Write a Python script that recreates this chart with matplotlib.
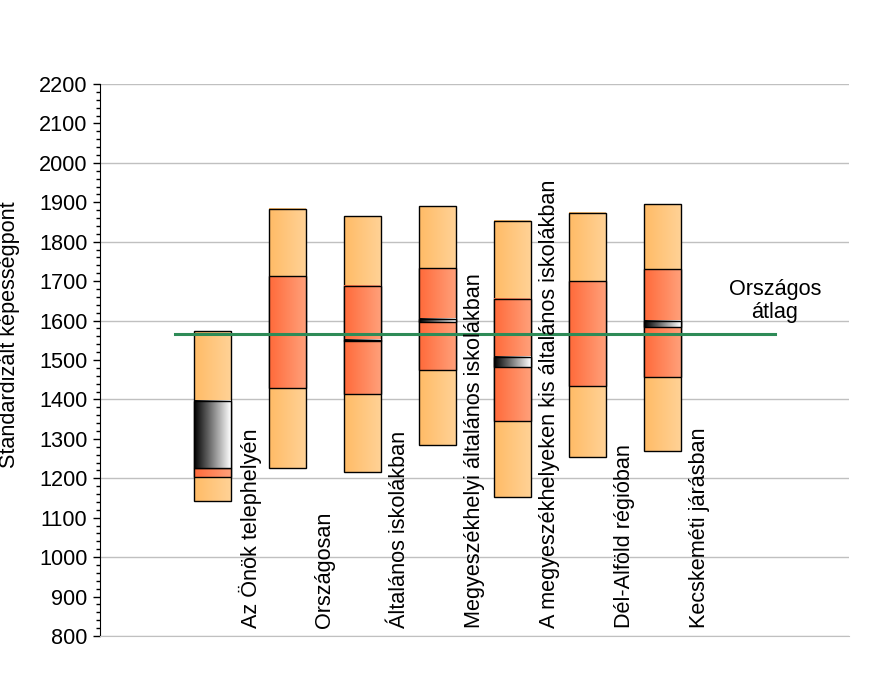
import numpy as np
import matplotlib
matplotlib.use("Agg")
import matplotlib.pyplot as plt
from matplotlib.colors import LinearSegmentedColormap
from matplotlib.patches import Rectangle
from matplotlib.ticker import MultipleLocator

plt.rcParams['font.family'] = ['Liberation Sans', 'DejaVu Sans']

categories = ["Az Önök telephelyén", "Országosan", "Általános iskolákban",
              "Megyeszékhelyi általános iskolákban",
              "A megyeszékhelyeken kis általános iskolákban",
              "Dél-Alföld régióban", "Kecskeméti járásban"]
outer_low = [1142, 1226, 1216, 1284, 1152, 1254, 1269]
outer_high = [1573, 1883, 1865, 1890, 1852, 1873, 1895]
inner_low = [1203, 1429, 1414, 1475, 1345, 1434, 1458]
inner_high = [1226, 1713, 1688, 1733, 1655, 1700, 1730]
mean_low = [1226, 1565, 1547, 1596, 1482, 1565, 1583]
mean_high = [1396, 1567, 1551, 1604, 1508, 1567, 1599]
national_avg = 1566

light_cmap = LinearSegmentedColormap.from_list("light", ["#ffbb66", "#ffd296"])
dark_cmap = LinearSegmentedColormap.from_list("dark", ["#ff6a3a", "#ffa07a"])
ci_cmap = LinearSegmentedColormap.from_list("ci", ["#000000", "#ffffff"])
grad = np.linspace(0, 1, 256).reshape(1, -1)

fig = plt.figure(figsize=(8.78, 6.75), dpi=100)
ax = fig.add_axes([100/878, 1-636/675, 749/878, 552/675])

w = 0.49
fs = 15.6

def gbox(x, lo, hi, cmap, z):
    if hi <= lo:
        return
    ax.imshow(grad, extent=[x - w/2, x + w/2, lo, hi], aspect='auto',
              cmap=cmap, zorder=z, interpolation='bilinear')
    ax.add_patch(Rectangle((x - w/2, lo), w, hi - lo, fill=False,
                           edgecolor='black', linewidth=1, zorder=z + 0.1))

for i in range(len(categories)):
    gbox(i, outer_low[i], outer_high[i], light_cmap, 2)
    gbox(i, inner_low[i], inner_high[i], dark_cmap, 3)
    gbox(i, mean_low[i], mean_high[i], ci_cmap, 4)
    ax.text(i + 0.5, 820, categories[i], rotation=90, ha='center', va='bottom',
            fontsize=fs, zorder=6)

ax.plot([-0.5, 7.5], [national_avg, national_avg], color='#2e8b57',
        linewidth=2.2, zorder=5)
ax.text(7.5, 1650, "Országos\nátlag", ha='center', va='center', fontsize=fs,
        linespacing=1.12)

ax.set_xlim(-1.5, 8.49)
ax.set_ylim(800, 2200)
ax.yaxis.set_major_locator(MultipleLocator(100))
ax.yaxis.set_minor_locator(MultipleLocator(20))
ax.set_xticks([])
for y in range(800, 2201, 200):
    ax.axhline(y, color='#c0c0c0', linewidth=1, zorder=0)
ax.spines['top'].set_visible(False)
ax.spines['right'].set_visible(False)
ax.spines['bottom'].set_color('#c0c0c0')
ax.tick_params(axis='y', which='major', length=5, width=1, labelsize=fs, pad=4)
ax.tick_params(axis='y', which='minor', length=3, width=1)
fig.text(10/878, 1 - 335/675, "Standardizált képességpont", rotation=90,
         ha='center', va='center', fontsize=fs)

fig.savefig("out.png", dpi=100)
